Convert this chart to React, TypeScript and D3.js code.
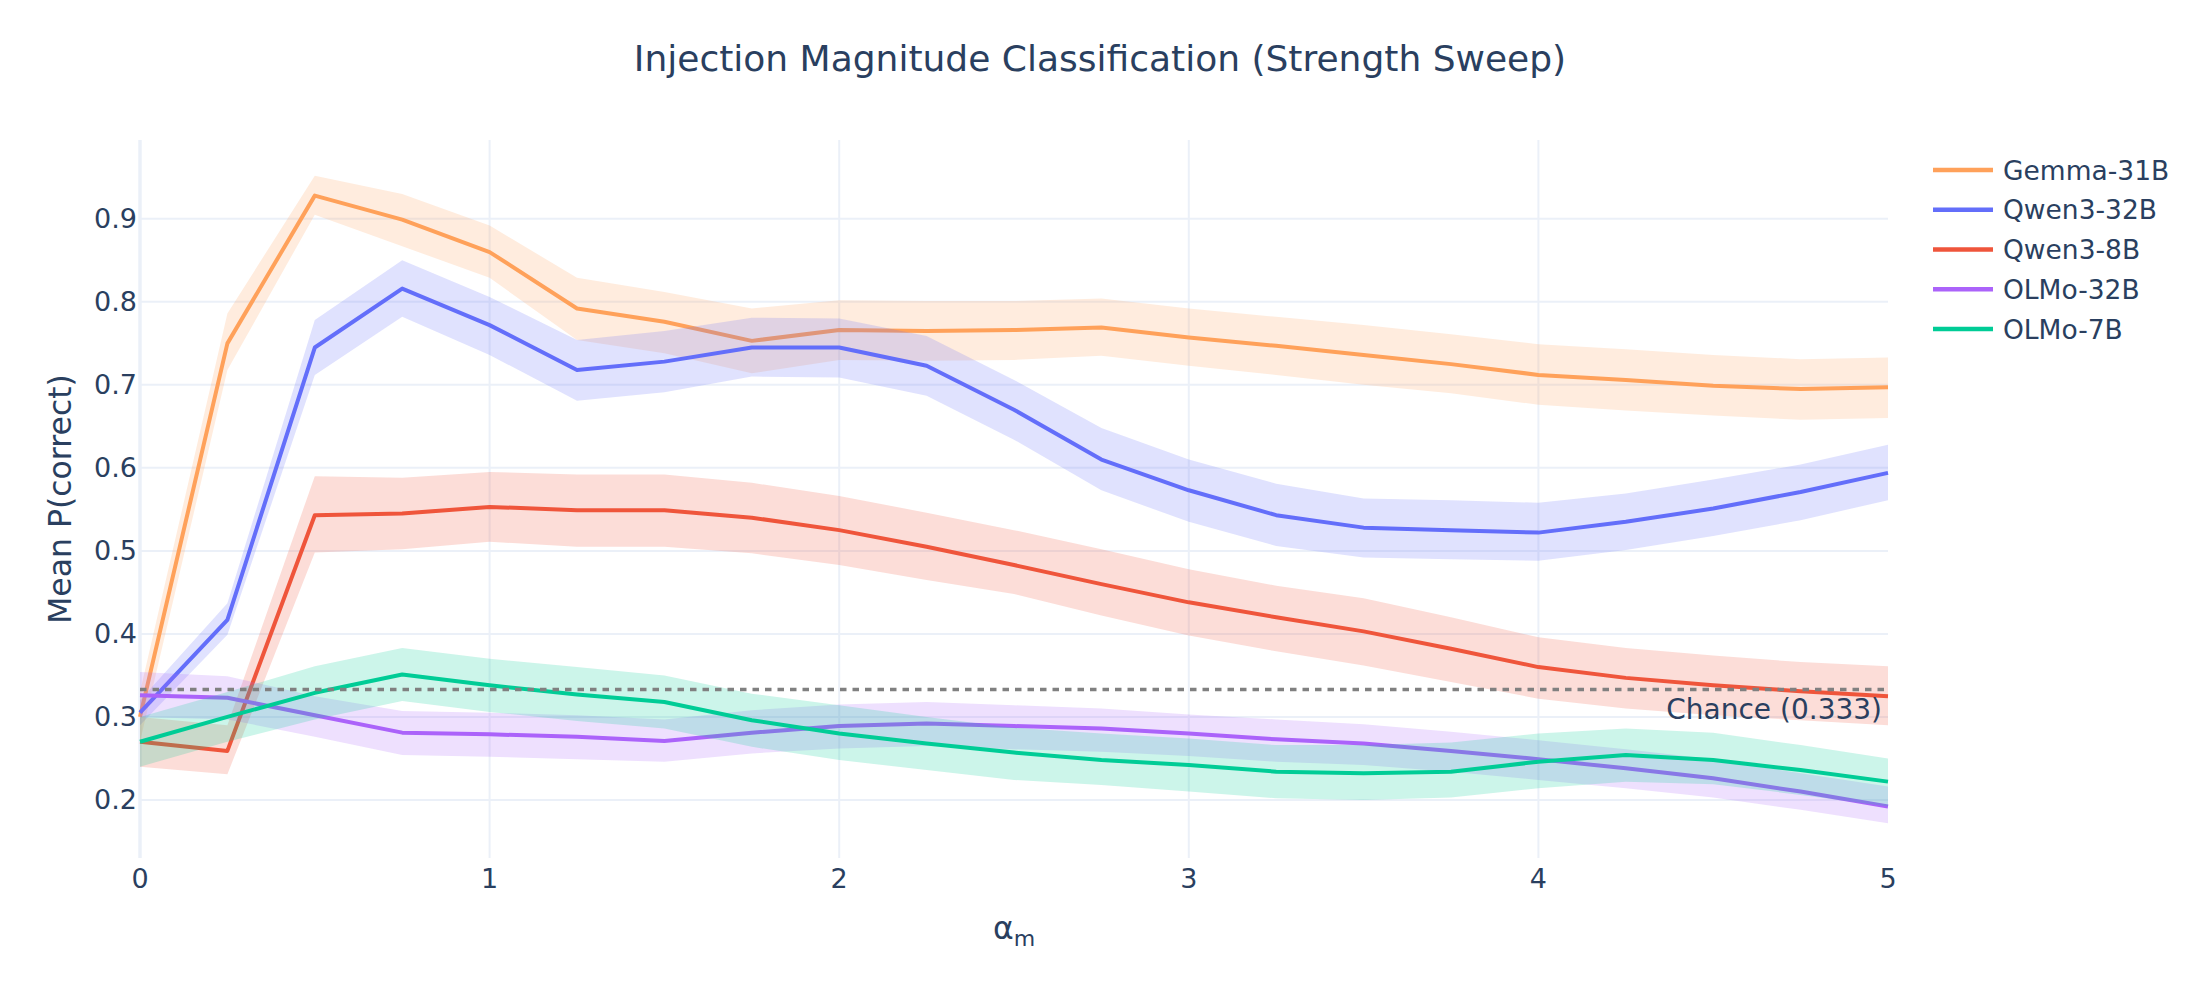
import React, { useEffect, useRef } from 'react';
import * as d3 from 'd3';

const alphas = [0, 0.25, 0.5, 0.75, 1, 1.25, 1.5, 1.75, 2, 2.25, 2.5, 2.75, 3, 3.25, 3.5, 3.75, 4, 4.25, 4.5, 4.75, 5];

const models = ['Gemma-31B', 'Qwen3-32B', 'Qwen3-8B', 'OLMo-32B', 'OLMo-7B'];
const colors = ['#FFA15A', '#636EFA', '#EF553B', '#AB63FA', '#00CC96'];

const gemmaMean = [0.300, 0.750, 0.928, 0.899, 0.860, 0.792, 0.776, 0.753, 0.766, 0.765, 0.766, 0.769, 0.757, 0.747, 0.736, 0.725, 0.712, 0.706, 0.699, 0.695, 0.697];
const gemmaUpper = [0.330, 0.786, 0.952, 0.930, 0.892, 0.829, 0.812, 0.792, 0.802, 0.801, 0.801, 0.804, 0.792, 0.782, 0.772, 0.761, 0.749, 0.743, 0.736, 0.731, 0.733];
const gemmaLower = [0.270, 0.718, 0.905, 0.867, 0.829, 0.754, 0.738, 0.714, 0.730, 0.729, 0.730, 0.735, 0.723, 0.712, 0.700, 0.690, 0.676, 0.669, 0.663, 0.658, 0.660];

const qwen32Mean = [0.305, 0.417, 0.745, 0.816, 0.772, 0.718, 0.728, 0.745, 0.745, 0.723, 0.670, 0.610, 0.573, 0.543, 0.528, 0.525, 0.522, 0.535, 0.551, 0.571, 0.594];
const qwen32Upper = [0.320, 0.437, 0.778, 0.850, 0.806, 0.754, 0.765, 0.781, 0.780, 0.759, 0.706, 0.648, 0.610, 0.581, 0.563, 0.561, 0.558, 0.569, 0.586, 0.604, 0.628];
const qwen32Lower = [0.290, 0.399, 0.712, 0.782, 0.736, 0.681, 0.691, 0.710, 0.709, 0.687, 0.634, 0.573, 0.535, 0.506, 0.492, 0.490, 0.488, 0.501, 0.518, 0.537, 0.561];

const qwen8Mean = [0.270, 0.259, 0.543, 0.545, 0.553, 0.549, 0.549, 0.540, 0.525, 0.505, 0.483, 0.460, 0.438, 0.420, 0.403, 0.382, 0.360, 0.347, 0.338, 0.331, 0.325];
const qwen8Upper = [0.300, 0.290, 0.590, 0.588, 0.595, 0.592, 0.592, 0.582, 0.566, 0.546, 0.525, 0.502, 0.478, 0.458, 0.443, 0.420, 0.396, 0.383, 0.374, 0.366, 0.361];
const qwen8Lower = [0.240, 0.231, 0.498, 0.502, 0.511, 0.505, 0.505, 0.497, 0.483, 0.465, 0.448, 0.422, 0.398, 0.379, 0.362, 0.342, 0.322, 0.310, 0.302, 0.296, 0.290];

const olmo32Mean = [0.326, 0.323, 0.302, 0.281, 0.279, 0.276, 0.271, 0.281, 0.289, 0.292, 0.289, 0.286, 0.280, 0.273, 0.268, 0.259, 0.249, 0.238, 0.226, 0.210, 0.192];
const olmo32Upper = [0.354, 0.349, 0.325, 0.307, 0.305, 0.302, 0.297, 0.308, 0.315, 0.318, 0.314, 0.310, 0.303, 0.297, 0.291, 0.282, 0.272, 0.261, 0.249, 0.232, 0.216];
const olmo32Lower = [0.300, 0.297, 0.276, 0.254, 0.252, 0.249, 0.246, 0.256, 0.262, 0.265, 0.261, 0.258, 0.253, 0.246, 0.242, 0.234, 0.224, 0.214, 0.203, 0.188, 0.172];

const olmo7Mean = [0.270, 0.300, 0.329, 0.351, 0.338, 0.327, 0.318, 0.296, 0.280, 0.268, 0.257, 0.248, 0.242, 0.234, 0.232, 0.234, 0.246, 0.254, 0.248, 0.236, 0.222];
const olmo7Upper = [0.300, 0.330, 0.361, 0.383, 0.370, 0.360, 0.350, 0.328, 0.314, 0.300, 0.287, 0.280, 0.274, 0.266, 0.266, 0.269, 0.280, 0.286, 0.281, 0.266, 0.250];
const olmo7Lower = [0.240, 0.270, 0.297, 0.319, 0.306, 0.295, 0.286, 0.264, 0.248, 0.236, 0.224, 0.218, 0.210, 0.202, 0.200, 0.203, 0.214, 0.222, 0.219, 0.206, 0.192];

const means = [gemmaMean, qwen32Mean, qwen8Mean, olmo32Mean, olmo7Mean];
const uppers = [gemmaUpper, qwen32Upper, qwen8Upper, olmo32Upper, olmo7Upper];
const lowers = [gemmaLower, qwen32Lower, qwen8Lower, olmo32Lower, olmo7Lower];

const xTicks = [0, 1, 2, 3, 4, 5];
const yTicks = [0.2, 0.3, 0.4, 0.5, 0.6, 0.7, 0.8, 0.9];
const chance = 0.333;

const WIDTH = 2200;
const HEIGHT = 1000;
const FONT = '"DejaVu Sans", Verdana, sans-serif';
const TEXT = '#2a3f5f';
const GRID = '#EBF0F8';

const App: React.FC = () => {
  const svgRef = useRef<SVGSVGElement>(null);

  useEffect(() => {
    if (!svgRef.current) return;
    const svg = d3.select(svgRef.current);
    svg.selectAll('*').remove();

    const margin = { top: 140, right: 312, bottom: 142, left: 140 };
    const x = d3.scaleLinear().domain([0, 5]).range([margin.left, WIDTH - margin.right]);
    const y = d3.scaleLinear().domain([0.13, 0.995]).range([HEIGHT - margin.bottom, margin.top]);

    svg.append('rect').attr('width', WIDTH).attr('height', HEIGHT).attr('fill', '#fff');

    // grid
    const grid = svg.append('g');
    yTicks.forEach(t => {
      grid.append('line')
        .attr('x1', x(0)).attr('x2', x(5))
        .attr('y1', y(t)).attr('y2', y(t))
        .attr('stroke', GRID).attr('stroke-width', 2);
    });
    xTicks.filter(t => t > 0 && t < 5).forEach(t => {
      grid.append('line')
        .attr('x1', x(t)).attr('x2', x(t))
        .attr('y1', y.range()[0]).attr('y2', y.range()[1])
        .attr('stroke', GRID).attr('stroke-width', 2);
    });
    grid.append('line')
      .attr('x1', x(0)).attr('x2', x(0))
      .attr('y1', y.range()[0]).attr('y2', y.range()[1])
      .attr('stroke', GRID).attr('stroke-width', 3.5);

    // tick labels
    const ticks = svg.append('g').attr('font-family', FONT).attr('font-size', 27).attr('fill', TEXT);
    yTicks.forEach(t => {
      ticks.append('text')
        .attr('x', 137).attr('y', y(t) + 9.5)
        .attr('text-anchor', 'end')
        .text(d3.format('.1f')(t));
    });
    xTicks.forEach(t => {
      ticks.append('text')
        .attr('x', x(t)).attr('y', 888)
        .attr('text-anchor', 'middle')
        .text(String(t));
    });

    // bands and lines, one model after the other
    const plot = svg.append('g');
    models.forEach((name, i) => {
      const rows = alphas.map((a, j) => ({ a, m: means[i][j], lo: lowers[i][j], hi: uppers[i][j] }));
      const area = d3.area<typeof rows[0]>()
        .x(d => x(d.a))
        .y0(d => y(d.lo))
        .y1(d => y(d.hi));
      const line = d3.line<typeof rows[0]>()
        .x(d => x(d.a))
        .y(d => y(d.m));
      const c = d3.color(colors[i])!.rgb();
      plot.append('path')
        .datum(rows)
        .attr('d', area)
        .attr('fill', `rgba(${c.r},${c.g},${c.b},0.2)`);
      plot.append('path')
        .datum(rows)
        .attr('d', line)
        .attr('fill', 'none')
        .attr('stroke', colors[i])
        .attr('stroke-width', 4)
        .attr('stroke-linejoin', 'round');
    });

    // chance line
    svg.append('line')
      .attr('x1', x(0)).attr('x2', x(5))
      .attr('y1', y(chance)).attr('y2', y(chance))
      .attr('stroke', '#808080')
      .attr('stroke-width', 3.5)
      .attr('stroke-dasharray', '6.5,6');
    svg.append('text')
      .attr('x', 1882).attr('y', y(chance) + 30)
      .attr('text-anchor', 'end')
      .attr('font-family', FONT).attr('font-size', 28).attr('fill', TEXT)
      .text(`Chance (${chance.toFixed(3)})`);

    // title
    svg.append('text')
      .attr('x', WIDTH / 2).attr('y', 71)
      .attr('text-anchor', 'middle')
      .attr('font-family', FONT).attr('font-size', 36).attr('fill', TEXT)
      .text('Injection Magnitude Classification (Strength Sweep)');

    // axis titles
    const xt = svg.append('text')
      .attr('x', (x(0) + x(5)) / 2).attr('y', 939)
      .attr('text-anchor', 'middle')
      .attr('font-family', FONT).attr('font-size', 31.5).attr('fill', TEXT);
    xt.append('tspan').text('α');
    xt.append('tspan').attr('font-size', 22).attr('dy', 7).text('m');

    svg.append('text')
      .attr('transform', `translate(71, ${(y.range()[0] + y.range()[1]) / 2}) rotate(-90)`)
      .attr('text-anchor', 'middle')
      .attr('font-family', FONT).attr('font-size', 31.5).attr('fill', TEXT)
      .text('Mean P(correct)');

    // legend
    const legend = svg.append('g').attr('font-family', FONT).attr('font-size', 26.5).attr('fill', TEXT);
    models.forEach((name, i) => {
      const cy = 170 + i * 39.75;
      legend.append('line')
        .attr('x1', 1933).attr('x2', 1993)
        .attr('y1', cy).attr('y2', cy)
        .attr('stroke', colors[i]).attr('stroke-width', 4.5);
      legend.append('text')
        .attr('x', 2003).attr('y', cy + 9.5)
        .text(name);
    });
  }, []);

  return (
    <svg
      ref={svgRef}
      width={WIDTH}
      height={HEIGHT}
      style={{ position: 'absolute', left: 0, top: 0, display: 'block' }}
    ></svg>
  );
};

export default App;
